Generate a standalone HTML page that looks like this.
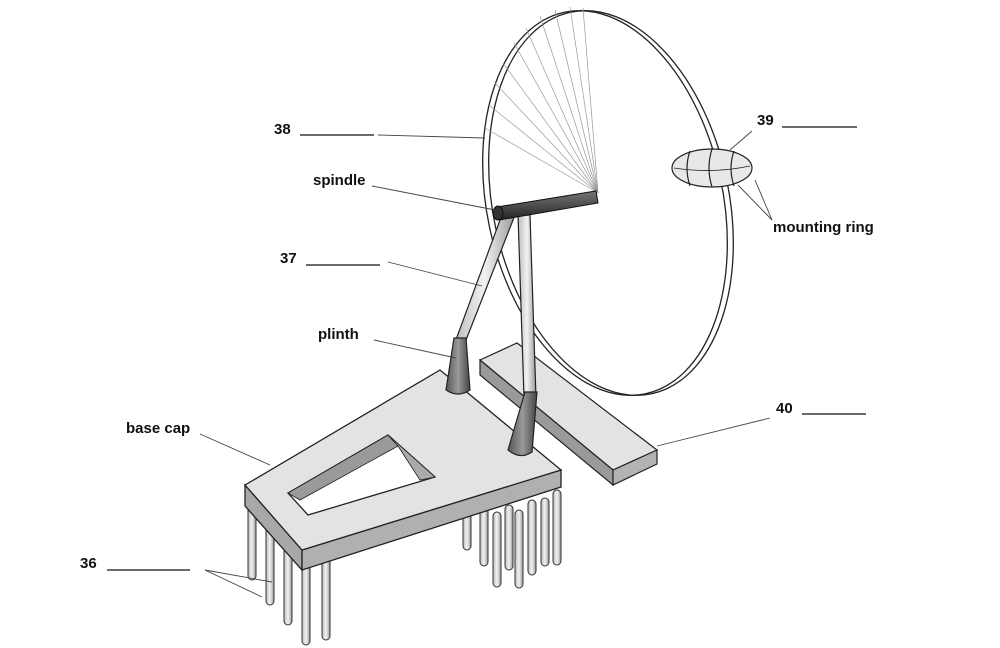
<!DOCTYPE html>
<html><head><meta charset="utf-8"><style>
html,body{margin:0;padding:0;background:#fff;}
svg{display:block;}
text{font-family:"Liberation Sans",sans-serif;font-size:15px;fill:#111;font-weight:bold;}
</style></head><body>
<svg width="1000" height="648" viewBox="0 0 1000 648" xmlns="http://www.w3.org/2000/svg">
<defs>
<linearGradient id="rod" x1="0" x2="1" y1="0" y2="0">
<stop offset="0" stop-color="#bbb"/><stop offset=".5" stop-color="#f2f2f2"/><stop offset="1" stop-color="#999"/></linearGradient>
<linearGradient id="cone" x1="0" x2="1"><stop offset="0" stop-color="#555"/><stop offset=".5" stop-color="#999"/><stop offset="1" stop-color="#444"/></linearGradient>
<linearGradient id="sp" x1="0" y1="0" x2="0" y2="1"><stop offset="0" stop-color="#777"/><stop offset=".4" stop-color="#555"/><stop offset="1" stop-color="#222"/></linearGradient>
</defs>

<g fill="none" stroke="#222" stroke-width="1.3">
<ellipse cx="605" cy="203" rx="118" ry="195" transform="rotate(-12 605 203)"/>
<ellipse cx="611" cy="203" rx="118" ry="195" transform="rotate(-12 611 203)"/>
</g>
<g stroke="#999" stroke-width="0.7">
<line x1="598" y1="193" x2="555" y2="10"/>
<line x1="598" y1="193" x2="540" y2="16"/>
<line x1="598" y1="193" x2="526" y2="28"/>
<line x1="598" y1="193" x2="514" y2="43"/>
<line x1="598" y1="193" x2="503" y2="63"/>
<line x1="598" y1="193" x2="495" y2="83"/>
<line x1="598" y1="193" x2="489" y2="105"/>
<line x1="598" y1="193" x2="485" y2="128"/>
<line x1="598" y1="193" x2="583" y2="8"/>
<line x1="598" y1="193" x2="570" y2="7"/>
</g>

<g stroke="#222" stroke-width="1.2">
<ellipse cx="712" cy="168" rx="40" ry="19" fill="#e8e8e8"/>
<path d="M690 151 Q684 168 690 186" fill="none"/>
<path d="M712 149 Q706 168 712 187" fill="none"/>
<path d="M734 151 Q728 168 734 186" fill="none"/>
<path d="M674 168 Q712 174 750 166" fill="none" stroke-width="0.8"/>
</g>

<g stroke="#222" stroke-width="1.2">
<polygon points="480,360 517,343 657,450 613,470" fill="#e3e3e3"/>
<polygon points="480,360 613,470 613,485 480,375" fill="#9a9a9a"/>
<polygon points="613,470 657,450 657,464 613,485" fill="#b3b3b3"/>
</g>

<g stroke="#333" stroke-width="1" fill="url(#rod)">
<rect x="463" y="505" width="8" height="45" rx="4"/>
<rect x="480" y="508" width="8" height="58" rx="4"/>
<rect x="493" y="512" width="8" height="75" rx="4"/>
<rect x="505" y="505" width="8" height="65" rx="4"/>
<rect x="515" y="510" width="8" height="78" rx="4"/>
<rect x="528" y="500" width="8" height="75" rx="4"/>
<rect x="541" y="498" width="8" height="68" rx="4"/>
<rect x="553" y="490" width="8" height="75" rx="4"/>
<rect x="248" y="500" width="8" height="80" rx="4"/>
<rect x="266" y="505" width="8" height="100" rx="4"/>
<rect x="284" y="520" width="8" height="105" rx="4"/>
<rect x="302" y="540" width="8" height="105" rx="4"/>
<rect x="322" y="540" width="8" height="100" rx="4"/>
</g>

<g stroke="#222" stroke-width="1.3">
<polygon points="245,485 245,506 302,570 302,550" fill="#a8a8a8"/>
<polygon points="302,550 561,470 561,487 302,570" fill="#b0b0b0"/>
<polygon points="245,485 440,370 561,470 302,550" fill="#e3e3e3"/>
<polygon points="288,493 388,435 435,477 308,515" fill="#fff"/>
<polygon points="288,493 388,435 398,446 300,500" fill="#9a9a9a" stroke-width="0.8"/>
<polygon points="388,435 435,477 420,480 398,446" fill="#aaa" stroke-width="0.8"/>
</g>

<g stroke="#222" stroke-width="1.2" fill="url(#rod)">
<polygon points="454,345 466,340 515,215 503,212"/>
<polygon points="524,398 536,398 530,215 518,215"/>
</g>
<g stroke="#222" stroke-width="1.2" fill="url(#cone)">
<path d="M454 338 L466 338 L470 390 Q458 398 446 390 Z"/>
<path d="M525 392 L537 392 L532 452 Q520 460 508 450 Z"/>
</g>

<g stroke="#111" stroke-width="1">
<polygon points="497,207 596,191 598,203 499,220" fill="url(#sp)"/>
<ellipse cx="498" cy="213" rx="5" ry="7" fill="#333"/>
</g>

<g stroke="#444" stroke-width="0.9" fill="none">
<line x1="378" y1="135" x2="485" y2="138"/>
<line x1="372" y1="186" x2="495" y2="210"/>
<line x1="388" y1="262" x2="482" y2="286"/>
<line x1="374" y1="340" x2="456" y2="358"/>
<line x1="200" y1="434" x2="270" y2="465"/>
<line x1="205" y1="570" x2="262" y2="597"/>
<line x1="205" y1="570" x2="272" y2="582"/>
<line x1="752" y1="131" x2="730" y2="150"/>
<line x1="772" y1="220" x2="738" y2="185"/>
<line x1="772" y1="220" x2="755" y2="180"/>
<line x1="770" y1="418" x2="657" y2="446"/>
</g>

<g>
<text x="274" y="134">38</text><line x1="300" y1="135" x2="374" y2="135" stroke="#111" stroke-width="1.2"/>
<text x="313" y="185">spindle</text>
<text x="280" y="263">37</text><line x1="306" y1="265" x2="380" y2="265" stroke="#111" stroke-width="1.2"/>
<text x="318" y="339">plinth</text>
<text x="126" y="433">base cap</text>
<text x="80" y="568">36</text><line x1="107" y1="570" x2="190" y2="570" stroke="#111" stroke-width="1.2"/>
<text x="757" y="125">39</text><line x1="782" y1="127" x2="857" y2="127" stroke="#111" stroke-width="1.2"/>
<text x="773" y="232">mounting ring</text>
<text x="776" y="413">40</text><line x1="802" y1="414" x2="866" y2="414" stroke="#111" stroke-width="1.2"/>
</g>
</svg>
</body></html>
